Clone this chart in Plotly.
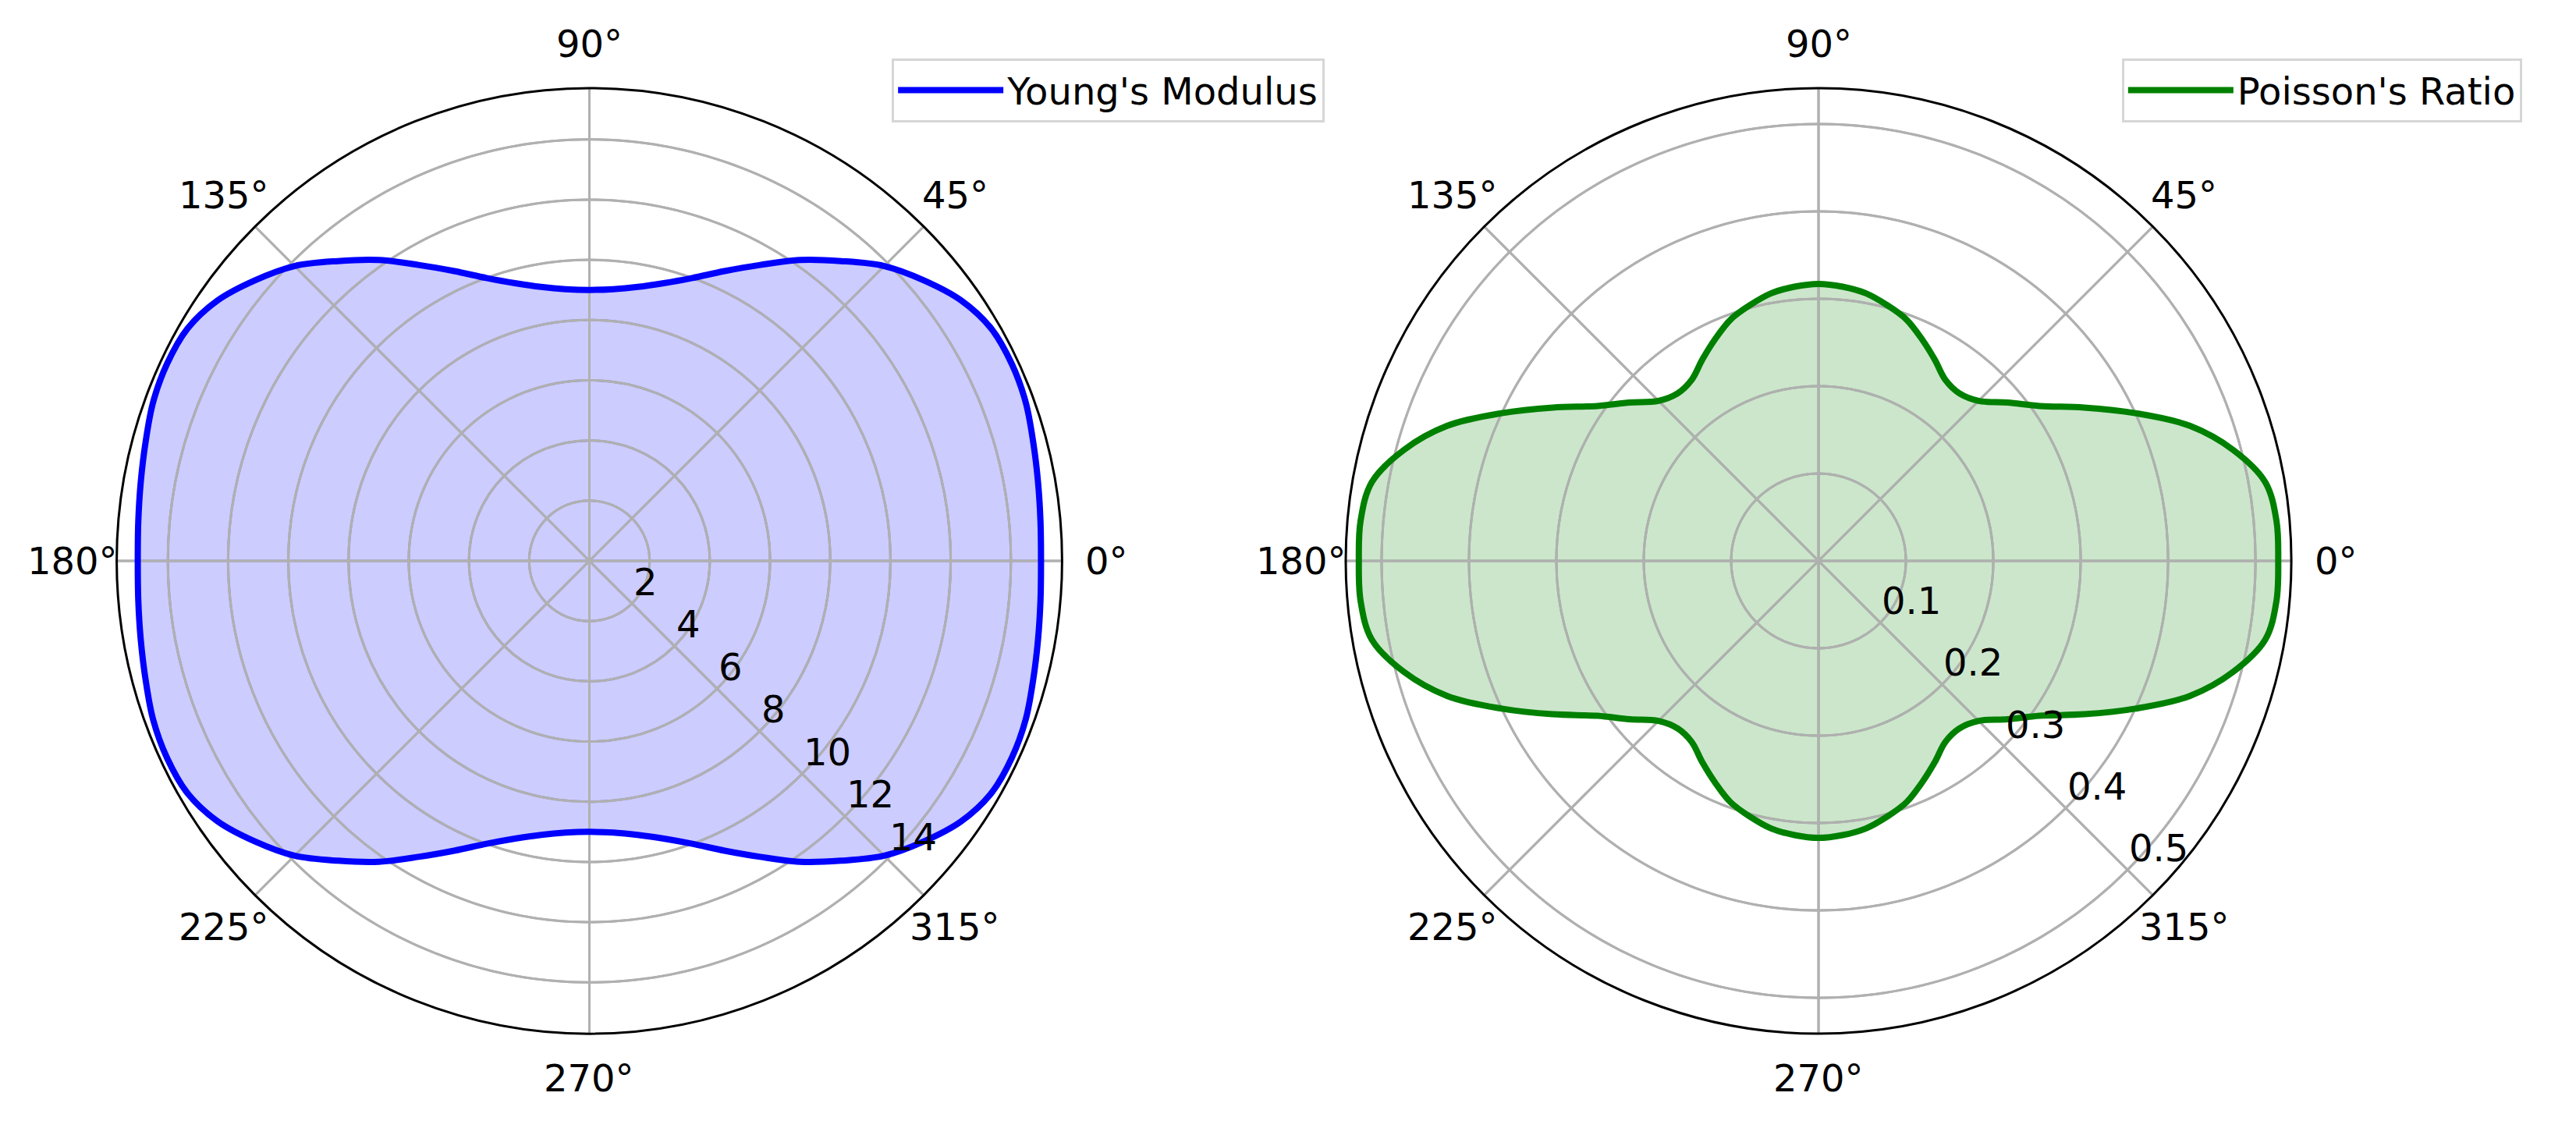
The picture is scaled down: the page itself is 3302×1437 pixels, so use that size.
"""Polar plots of Young's modulus and Poisson's ratio vs. loading direction."""
import math

import plotly.graph_objects as go

# Direction angle in degrees, 5 degree steps (closed curve)
THETA = list(range(0, 361, 5))

# Young's modulus
YOUNGS_MODULUS = [
    15.0, 15.04, 15.13, 15.26, 15.42, 15.48, 15.42, 15.08, 14.5, 13.85,
    13.0, 12.2, 11.35, 10.62, 10.0, 9.55, 9.24, 9.06, 9.0,
    9.06, 9.24, 9.55, 10.0, 10.62, 11.35, 12.2, 13.0, 13.85, 14.5,
    15.08, 15.42, 15.48, 15.42, 15.26, 15.13, 15.04, 15.0,
    15.04, 15.13, 15.26, 15.42, 15.48, 15.42, 15.08, 14.5, 13.85,
    13.0, 12.2, 11.35, 10.62, 10.0, 9.55, 9.24, 9.06, 9.0,
    9.06, 9.24, 9.55, 10.0, 10.62, 11.35, 12.2, 13.0, 13.85, 14.5,
    15.08, 15.42, 15.48, 15.42, 15.26, 15.13, 15.04, 15.0,
]

# Poisson's ratio
POISSONS_RATIO = [
    0.526, 0.526, 0.519, 0.491, 0.452, 0.400, 0.351, 0.309, 0.282, 0.259,
    0.2505, 0.253, 0.266, 0.280, 0.294, 0.303, 0.311, 0.315, 0.317,
    0.315, 0.311, 0.303, 0.294, 0.280, 0.266, 0.253, 0.2505, 0.259, 0.282,
    0.309, 0.351, 0.400, 0.452, 0.491, 0.519, 0.526, 0.526,
    0.526, 0.519, 0.491, 0.452, 0.400, 0.351, 0.309, 0.282, 0.259,
    0.2505, 0.253, 0.266, 0.280, 0.294, 0.303, 0.311, 0.315, 0.317,
    0.315, 0.311, 0.303, 0.294, 0.280, 0.266, 0.253, 0.2505, 0.259, 0.282,
    0.309, 0.351, 0.400, 0.452, 0.491, 0.519, 0.526, 0.526,
]

ANGLE_TICKS = [0, 45, 90, 135, 180, 225, 270, 315]
E_TICKS = [2, 4, 6, 8, 10, 12, 14]
E_RMAX = 15.7
NU_TICKS = [0.1, 0.2, 0.3, 0.4, 0.5]
NU_RMAX = 0.541

W, H = 3302, 1437
FONT = "DejaVu Sans"
FSIZE = 48
GRID = "#b0b0b0"
RING_THETA = list(range(0, 361))  # fine sampling so rings look round
LABEL_PAD = 57    # px from the outer circle to the centre of an angle label
RLABEL_ANGLE = -45
RLABEL_LIFT = 28  # px the r-labels sit above their spoke point

# the page body keeps its default 8px margin -> pull everything back
DX = 8 / W
DY = 8 / H
DOMAIN_Y = [0.0779 + DY, 0.9214 + DY]
DOMAIN_LEFT = [0.0453 - DX, 0.4123 - DX]
DOMAIN_RIGHT = [0.5224 - DX, 0.8895 - DX]


def _polar(domain_x, rmax, rticks):
    return dict(
        domain=dict(x=domain_x, y=DOMAIN_Y),
        bgcolor="white",
        angularaxis=dict(
            rotation=0, direction="counterclockwise",
            tickmode="array", tickvals=ANGLE_TICKS,
            showticklabels=False, ticks="",
            showline=True, linecolor="black", linewidth=3,
            showgrid=True, gridcolor=GRID, gridwidth=3,
        ),
        radialaxis=dict(
            range=[0, rmax], angle=RLABEL_ANGLE,
            tickmode="array", tickvals=rticks,
            showticklabels=False, ticks="", showline=False,
            showgrid=True, gridcolor=GRID, gridwidth=3,
        ),
    )


def _labels(domain_x, rmax, rticks):
    # matplotlib centres the degree labels at a fixed distance outside the
    # circle and hangs the r-labels off the spoke; plotly anchors its tick
    # labels differently, so both sets are annotations here
    cx = sum(domain_x) / 2
    cy = sum(DOMAIN_Y) / 2
    radius = (domain_x[1] - domain_x[0]) * W / 2
    font = dict(size=FSIZE, color="black", family=FONT)
    out = []
    for a in ANGLE_TICKS:
        d = radius + LABEL_PAD
        out.append(dict(
            text=f"{a}°", xref="paper", yref="paper",
            x=cx + d * math.cos(math.radians(a)) / W,
            y=cy + d * math.sin(math.radians(a)) / H,
            xanchor="center", yanchor="middle", showarrow=False, font=font,
        ))
    for v in rticks:
        d = v / rmax * radius
        out.append(dict(
            text=f"{v:g}", xref="paper", yref="paper",
            x=cx + d * math.cos(math.radians(RLABEL_ANGLE)) / W,
            y=cy + (d * math.sin(math.radians(RLABEL_ANGLE)) + RLABEL_LIFT) / H,
            xanchor="left", yanchor="middle", showarrow=False, font=font,
        ))
    return out


def _add_panel(fig, r, color, fill, name, subplot, legend, rmax, rticks):
    # matplotlib draws the grid above the translucent fill but below the line,
    # plotly keeps its grid under all traces -> fill, grid overlay, then line
    fig.add_trace(go.Scatterpolar(
        r=r, theta=THETA, mode="lines",
        line=dict(color=color, width=0, shape="spline"),
        fill="toself", fillcolor=fill,
        subplot=subplot, showlegend=False, hoverinfo="skip",
    ))
    for v in rticks:
        fig.add_trace(go.Scatterpolar(
            r=[v] * len(RING_THETA), theta=RING_THETA, mode="lines",
            line=dict(color=GRID, width=3),
            subplot=subplot, showlegend=False, hoverinfo="skip",
        ))
    for a in ANGLE_TICKS:
        fig.add_trace(go.Scatterpolar(
            r=[0, rmax], theta=[a, a], mode="lines",
            line=dict(color=GRID, width=3),
            subplot=subplot, showlegend=False, hoverinfo="skip",
        ))
    fig.add_trace(go.Scatterpolar(
        r=r, theta=THETA, mode="lines", name=name,
        line=dict(color=color, width=8, shape="spline"),
        subplot=subplot, legend=legend,
    ))


fig = go.Figure()
_add_panel(fig, YOUNGS_MODULUS, "blue", "rgba(0,0,255,0.2)",
           "Young's Modulus", "polar", "legend", E_RMAX, E_TICKS)
_add_panel(fig, POISSONS_RATIO, "green", "rgba(0,128,0,0.2)",
           "Poisson's Ratio", "polar2", "legend2", NU_RMAX, NU_TICKS)

_legend = dict(
    xanchor="left", yanchor="top", y=0.948 + DY,
    bgcolor="white", bordercolor="#d6d6d6", borderwidth=3,
    itemwidth=135,
    font=dict(size=FSIZE, color="black", family=FONT),
)
fig.update_layout(
    width=W, height=H,
    margin=dict(l=0, r=0, t=0, b=0),
    paper_bgcolor="white",
    font=dict(family=FONT, size=FSIZE, color="black"),
    polar=_polar(DOMAIN_LEFT, E_RMAX, E_TICKS),
    polar2=_polar(DOMAIN_RIGHT, NU_RMAX, NU_TICKS),
    legend=dict(_legend, x=0.3462 - DX),
    legend2=dict(_legend, x=0.8237 - DX),
    annotations=(_labels(DOMAIN_LEFT, E_RMAX, E_TICKS)
                 + _labels(DOMAIN_RIGHT, NU_RMAX, NU_TICKS)),
    showlegend=True,
)

fig.write_html("out.html")
